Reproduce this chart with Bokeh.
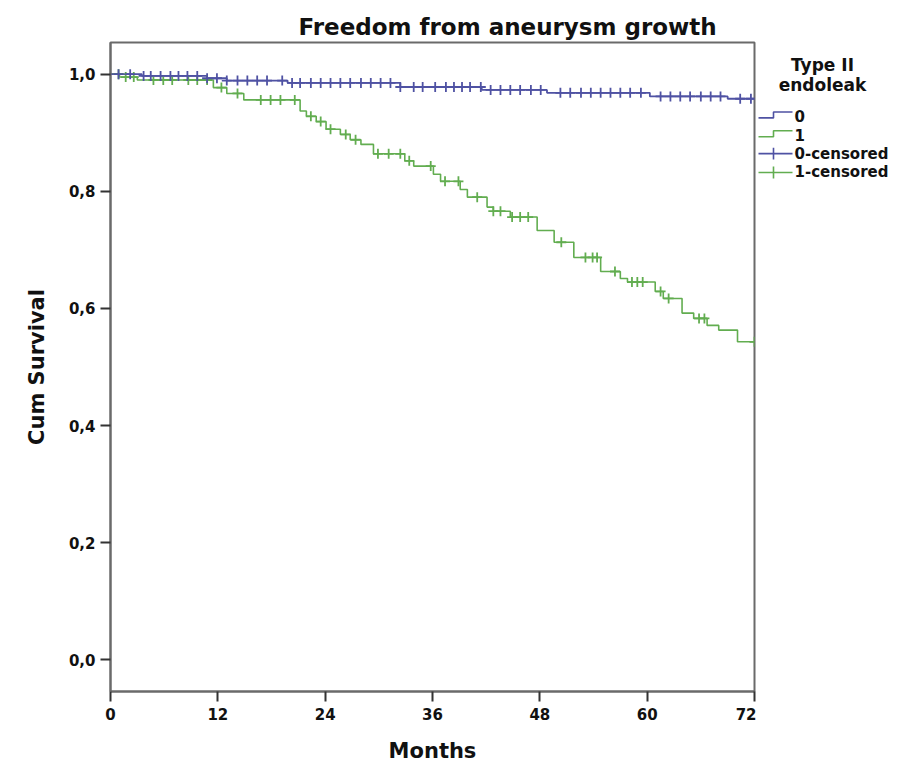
import numpy as np
from bokeh.plotting import figure
from bokeh.layouts import row
from bokeh.models import Range1d, FixedTicker, CustomJSTickFormatter
from bokeh.embed import file_html
from bokeh.resources import INLINE
from bokeh.core.properties import value

# ---------------- data ----------------
title_text = "Freedom from aneurysm growth"
x_label = "Months"
y_label = "Cum Survival"
x_ticks = [0, 12, 24, 36, 48, 60, 72]
y_ticks = [0.0, 0.2, 0.4, 0.6, 0.8, 1.0]
x_end = 72

# Type II endoleak = 0 (blue)
g0_times = [0, 3.5, 10.8, 13.0, 19.8, 32.4, 41.5, 48.8, 60.3, 69.0]
g0_surv = [1.0, 0.997, 0.993, 0.989, 0.985, 0.978, 0.973, 0.968, 0.962, 0.958]
g0_censor = [0.9, 2.2, 3.7, 4.5, 5.6, 6.7, 7.6, 8.6, 9.7, 10.8, 11.9, 13.0, 14.2,
             15.3, 16.4, 17.5, 19.2, 20.3, 21.2, 22.4, 23.5, 24.6, 25.7, 26.8,
             28.0, 29.1, 30.2, 31.3, 32.4, 33.9, 34.9, 36.3, 37.5, 38.4, 39.3,
             40.2, 41.4, 42.5, 43.6, 44.7, 45.8, 47.0, 48.1, 50.3, 51.4, 52.6,
             53.7, 54.8, 55.9, 57.0, 58.1, 59.3, 61.5, 62.6, 63.7, 64.8, 66.0,
             67.1, 68.2, 70.4, 71.6]

# Type II endoleak = 1 (green)
g1_times = [0, 1.0, 3.0, 11.5, 13.0, 14.9, 21.2, 21.9, 23.0, 24.1, 25.7, 26.8,
            28.0, 29.4, 32.9, 33.9, 36.1, 36.9, 39.1, 39.9, 42.1, 42.8, 44.7,
            47.7, 49.6, 51.8, 54.8, 57.0, 57.8, 60.9, 61.8, 63.9, 65.2, 66.7,
            68.0, 70.1]
g1_surv = [1.0, 0.995, 0.990, 0.977, 0.967, 0.956, 0.937, 0.928, 0.919, 0.906,
           0.897, 0.888, 0.880, 0.864, 0.852, 0.843, 0.829, 0.817, 0.803, 0.790,
           0.773, 0.766, 0.756, 0.733, 0.713, 0.687, 0.663, 0.651, 0.645, 0.629,
           0.617, 0.592, 0.583, 0.571, 0.563, 0.543]
g1_censor = [0.9, 1.7, 2.6, 4.8, 5.9, 6.9, 8.7, 9.7, 10.8, 12.4, 14.2, 16.8, 17.9,
             19.0, 20.6, 22.4, 23.5, 24.6, 26.3, 27.4, 29.9, 31.1, 32.4, 33.4,
             35.8, 37.4, 38.9, 41.0, 42.8, 43.6, 44.9, 45.8, 46.7, 50.4, 53.1,
             53.9, 54.4, 56.4, 58.3, 58.9, 59.5, 61.5, 62.4, 65.8, 66.4, 72.0]

legend_title = ["Type II", "endoleak"]
legend_labels = ["0", "1", "0-censored", "1-censored"]

# ---------------- style ----------------
BLUE = "#4f52a3"
GREEN = "#62ad50"
AXC = "#6a6a6a"
FONT = "DejaVu Sans"
TOP, FRAME_H, BOTTOM = 42, 654, 69


def surv_at(times, surv, t):
    idx = np.searchsorted(np.asarray(times), np.asarray(t), side="right") - 1
    return list(np.asarray(surv)[idx])


p = figure(width=756, height=TOP + FRAME_H + BOTTOM, output_backend="svg",
           toolbar_location=None,
           x_range=Range1d(0, x_end), y_range=Range1d(-0.054, 1.054),
           min_border_left=110, min_border_right=2, min_border_top=TOP,
           min_border_bottom=BOTTOM)
p.grid.visible = False
p.outline_line_color = AXC
p.outline_line_width = 2
p.background_fill_color = "white"
p.border_fill_color = "white"

p.title.text = title_text
p.title.align = "left"
p.title.offset = 188
p.title.text_font = FONT
p.title.text_font_size = "23px"
p.title.text_font_style = "bold"
p.title.text_color = "#111111"
p.title.standoff = 6

for ax in (p.xaxis[0], p.yaxis[0]):
    ax.axis_line_color = AXC
    ax.axis_line_width = 2
    ax.major_tick_line_color = "#333333"
    ax.major_tick_line_width = 2
    ax.major_tick_in = 0
    ax.major_tick_out = 10
    ax.minor_tick_line_color = None
    ax.major_label_text_font = FONT
    ax.major_label_text_font_style = "bold"
    ax.major_label_text_font_size = "15px"
    ax.major_label_text_color = "#111111"
    ax.axis_label_text_font = FONT
    ax.axis_label_text_font_style = "bold"
    ax.axis_label_text_font_size = "21px"
    ax.axis_label_text_color = "#111111"

p.xaxis.ticker = FixedTicker(ticks=x_ticks)
p.yaxis.ticker = FixedTicker(ticks=y_ticks)
p.yaxis.formatter = CustomJSTickFormatter(code="return tick.toFixed(1).replace('.', ',');")
p.xaxis.major_label_standoff = 6
p.yaxis.major_label_standoff = 5
p.xaxis.axis_label = x_label
p.yaxis.axis_label = y_label
p.xaxis.axis_label_standoff = 16
p.yaxis.axis_label_standoff = 17

# curves
p.step(x=g1_times + [x_end], y=g1_surv + [g1_surv[-1]], mode="after",
       line_color=GREEN, line_width=1.6)
p.step(x=g0_times + [x_end], y=g0_surv + [g0_surv[-1]], mode="after",
       line_color=BLUE, line_width=1.8)
p.scatter(x=g1_censor, y=surv_at(g1_times, g1_surv, g1_censor), marker="cross",
          size=10, line_color=GREEN, line_width=1.8)
p.scatter(x=g0_censor, y=surv_at(g0_times, g0_surv, g0_censor), marker="cross",
          size=10, line_color=BLUE, line_width=1.8)

# ---------------- legend panel (frame aligned with main frame: page y 42..696) ----------------
LW = 135
lg = figure(width=LW, height=TOP + FRAME_H + BOTTOM, output_backend="svg",
            toolbar_location=None,
            x_range=Range1d(0, LW), y_range=Range1d(TOP + FRAME_H, TOP),
            min_border_left=0, min_border_right=0, min_border_top=TOP,
            min_border_bottom=BOTTOM, outline_line_color=None)
lg.axis.visible = False
lg.grid.visible = False

lg.text(x=[66, 66], y=[65, 85], text=legend_title, text_align="center",
        text_baseline="middle", text_font=value(FONT), text_font_style="bold",
        text_font_size="17px", text_color="#111111")

entry_y = [116, 135, 154, 173]
lg.text(x=[38] * 4, y=entry_y, text=legend_labels, text_align="left",
        text_baseline="middle", text_font=value(FONT), text_font_style="bold",
        text_font_size="15px", text_color="#111111")
# step glyphs
lg.line(x=[2, 17, 17, 36], y=[118, 118, 112, 112], line_color=BLUE, line_width=1.6)
lg.line(x=[2, 17, 17, 36], y=[137, 137, 131, 131], line_color=GREEN, line_width=1.6)
# censored glyphs
lg.line(x=[2, 36], y=[154, 154], line_color=BLUE, line_width=1.6)
lg.line(x=[17, 17], y=[148, 160], line_color=BLUE, line_width=1.6)
lg.line(x=[2, 36], y=[173, 173], line_color=GREEN, line_width=1.6)
lg.line(x=[17, 17], y=[167, 179], line_color=GREEN, line_width=1.6)

layout = row(p, lg)
open("out.html", "w").write(file_html(layout, INLINE))
